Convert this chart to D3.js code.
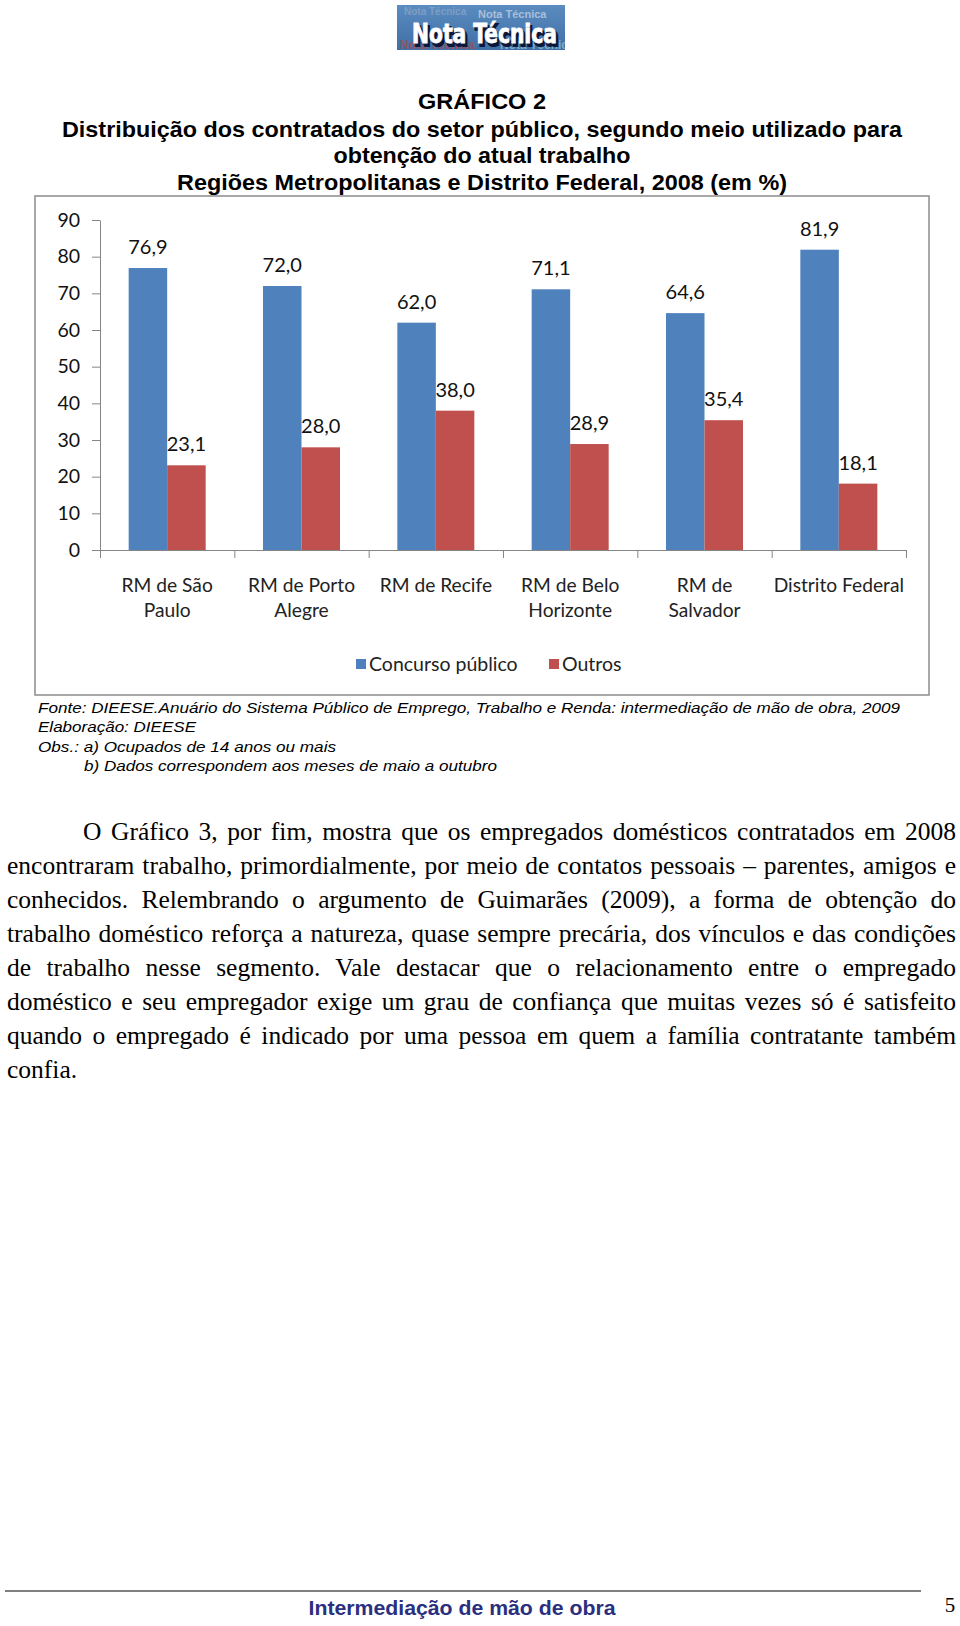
<!DOCTYPE html>
<html><head><meta charset="utf-8">
<script src="https://cdn.jsdelivr.net/npm/d3@7"></script>
<style>body{margin:0;background:#fff}svg{display:block}</style>
</head><body><svg id="c" width="960" height="1626"></svg>
<script>
// ---------- DATA ----------
const categories = [["RM de São","Paulo"],["RM de Porto","Alegre"],["RM de Recife"],["RM de Belo","Horizonte"],["RM de","Salvador"],["Distrito Federal"]];
const seriesNames = ["Concurso público","Outros"];
const concursoPublico = [76.9,72.0,62.0,71.1,64.6,81.9];
const outros = [23.1,28.0,38.0,28.9,35.4,18.1];
const yTicks = [0,10,20,30,40,50,60,70,80,90];
const titleLines = ["GRÁFICO 2","Distribuição dos contratados do setor público, segundo meio utilizado para","obtenção do atual trabalho","Regiões Metropolitanas e Distrito Federal, 2008 (em %)"];
const noteLines = ["Fonte: DIEESE.Anuário do Sistema Público de Emprego, Trabalho e Renda: intermediação de mão de obra, 2009","Elaboração: DIEESE","Obs.: a) Ocupados de 14 anos ou mais","b) Dados correspondem aos meses de maio a outubro"];
const bodyLines = ["O Gráfico 3, por fim, mostra que os empregados domésticos contratados em 2008",
"encontraram trabalho, primordialmente, por meio de contatos pessoais – parentes, amigos e",
"conhecidos. Relembrando o argumento de Guimarães (2009), a forma de obtenção do",
"trabalho doméstico reforça a natureza, quase sempre precária, dos vínculos e das condições",
"de trabalho nesse segmento. Vale destacar que o relacionamento entre o empregado",
"doméstico e seu empregador exige um grau de confiança que muitas vezes só é satisfeito",
"quando o empregado é indicado por uma pessoa em quem a família contratante também",
"confia."];
const footerText = "Intermediação de mão de obra";
const pageNumber = "5";
const logoText = "Nota Técnica";

const seriesValues = [concursoPublico, outros];
const colors = ["#4F81BD","#C0504D"];
const svg = d3.select("#c");
const fmt = v => d3.format(".1f")(v).replace(".", ",");

// ---------- LOGO ----------
const defs = svg.append("defs");
const lg = defs.append("linearGradient").attr("id","lg").attr("x1",0).attr("y1",0).attr("x2",0).attr("y2",1);
lg.append("stop").attr("offset","0%").attr("stop-color","#5b8cc0");
lg.append("stop").attr("offset","100%").attr("stop-color","#3f6fa5");
defs.append("clipPath").attr("id","lc").append("rect").attr("x",397).attr("y",5).attr("width",168).attr("height",45);
const logo = svg.append("g").attr("clip-path","url(#lc)");
logo.append("rect").attr("x",397).attr("y",5).attr("width",168).attr("height",45).attr("fill","url(#lg)");
[[404,15,"#8aa6c8",10],[478,18,"#c6d3e4",11],[400,49,"#b04848",12],[500,49,"#8fc0d6",12]].forEach(d=>{
  logo.append("text").attr("x",d[0]).attr("y",d[1]).attr("fill",d[2]).attr("font-family","Liberation Sans").attr("font-weight","bold").attr("font-size",d[3]).attr("opacity",0.75).text(logoText);
});
logo.append("text").attr("x",414).attr("y",45.5).attr("fill","#0d1838").attr("stroke","#0d1838").attr("stroke-width",2)
  .attr("font-family","DejaVu Sans Condensed, Liberation Sans Narrow, Liberation Sans").attr("font-weight","bold").attr("font-size",26)
  .attr("textLength",145).attr("lengthAdjust","spacingAndGlyphs").text(logoText);
logo.append("text").attr("x",412).attr("y",43).attr("fill","#ffffff").attr("stroke","#ffffff").attr("stroke-width",0.8)
  .attr("font-family","DejaVu Sans Condensed, Liberation Sans Narrow, Liberation Sans").attr("font-weight","bold").attr("font-size",26)
  .attr("textLength",145).attr("lengthAdjust","spacingAndGlyphs").text(logoText);

// ---------- TITLE ----------
const titleW = [128,840,297,610];
const titleY = [109,137,163,190];
svg.append("g").selectAll("text").data(titleLines).join("text")
  .attr("x",482).attr("y",(d,i)=>titleY[i]).attr("text-anchor","middle")
  .attr("font-family","Liberation Sans, Arial").attr("font-weight","bold").attr("font-size",22.5)
  .attr("textLength",(d,i)=>titleW[i]).attr("lengthAdjust","spacingAndGlyphs").attr("fill","#000")
  .text(d=>d);

// ---------- CHART BOX ----------
svg.append("rect").attr("x",35).attr("y",196).attr("width",894).attr("height",499)
  .attr("fill","#fff").attr("stroke","#8c8c8c").attr("stroke-width",1.5);

const x = d3.scaleBand().domain(d3.range(categories.length)).range([100,906]);
const xEdge = d3.scaleLinear().domain([0,categories.length]).range([100,906]);
const y = d3.scaleLinear().domain([0,90]).range([550,220]);
const groupW = 77;
const xs = d3.scaleBand().domain(d3.range(seriesNames.length)).range([0,groupW]);

// Y axis
const yAxis = svg.append("g").attr("transform","translate(100,0)")
  .call(d3.axisLeft(y).tickValues(yTicks).tickSize(8).tickPadding(12).tickSizeOuter(0));
yAxis.selectAll("path,line").attr("stroke","#868686");
yAxis.selectAll("text").attr("font-family","Lato").attr("font-size",19.5).attr("fill","#111");

// X axis
const xAxis = svg.append("g").attr("transform","translate(0,550)")
  .call(d3.axisBottom(xEdge).tickValues(d3.range(categories.length+1)).tickSize(8).tickSizeOuter(0).tickFormat(""));
xAxis.selectAll("path,line").attr("stroke","#868686");

// Bars
const groups = svg.append("g").selectAll("g").data(categories).join("g")
  .attr("transform",(d,i)=>`translate(${x(i)+x.bandwidth()/2-groupW/2},0)`);
groups.each(function(d,i){
  const g = d3.select(this);
  seriesValues.forEach((vals,s)=>{
    g.append("rect").attr("x",xs(s)).attr("width",xs.bandwidth())
      .attr("y",y(vals[i])).attr("height",y(0)-y(vals[i])).attr("fill",colors[s]);
    g.append("text").attr("x",xs(s)+xs.bandwidth()/2).attr("y",y(vals[i])-14)
      .attr("text-anchor","middle").attr("font-family","Lato").attr("font-size",20).attr("fill","#111")
      .text(fmt(vals[i]));
  });
});

// Category labels
svg.append("g").selectAll("text").data(categories).join("text")
  .attr("x",(d,i)=>x(i)+x.bandwidth()/2).attr("y",591.5)
  .attr("text-anchor","middle").attr("font-family","Lato").attr("font-size",19.2).attr("fill","#222")
  .each(function(d){
    const t = d3.select(this);
    d.forEach((line,k)=>t.append("tspan").attr("x",t.attr("x")).attr("dy",k?25:0).text(line));
  });

// Legend
const legX = [356,549];
const leg = svg.append("g").selectAll("g").data(seriesNames).join("g")
  .attr("transform",(d,i)=>`translate(${legX[i]},659)`);
leg.append("rect").attr("width",10).attr("height",10).attr("fill",(d,i)=>colors[i]);
leg.append("text").attr("x",13).attr("y",11.5).attr("font-family","Lato").attr("font-size",19.5).attr("fill","#222").text(d=>d);

// ---------- NOTES ----------
const noteX = [38,38,38,84];
const noteY = [713,732,751.5,771];
const noteW = [862,158,298,413];
svg.append("g").selectAll("text").data(noteLines).join("text")
  .attr("x",(d,i)=>noteX[i]).attr("y",(d,i)=>noteY[i])
  .attr("font-family","Liberation Sans, Arial").attr("font-style","italic").attr("font-size",15.5)
  .attr("textLength",(d,i)=>noteW[i]).attr("lengthAdjust","spacingAndGlyphs").attr("fill","#000")
  .text(d=>d);

// ---------- BODY ----------
const bodyG = svg.append("g");
bodyLines.forEach((line,i)=>{
  const x0 = i===0 ? 83 : 7;
  const t = bodyG.append("text").attr("x",x0).attr("y",839.5+i*34.05)
    .attr("font-family","Liberation Serif").attr("font-size",25.5).attr("fill","#000").text(line);
  if (i < bodyLines.length-1) {
    const target = 956 - x0;
    const natural = t.node().getComputedTextLength();
    const spaces = (line.match(/ /g)||[]).length;
    const gap = target - natural;
    if (gap >= 0 && spaces) t.attr("word-spacing",gap/spaces);
    else t.attr("textLength",target).attr("lengthAdjust","spacingAndGlyphs");
  }
});

// ---------- FOOTER ----------
svg.append("line").attr("x1",5).attr("x2",921).attr("y1",1591).attr("y2",1591).attr("stroke","#555").attr("stroke-width",1.5);
svg.append("text").attr("x",462).attr("y",1615).attr("text-anchor","middle")
  .attr("font-family","Liberation Sans, Arial").attr("font-weight","bold").attr("font-size",20)
  .attr("textLength",307).attr("lengthAdjust","spacingAndGlyphs").attr("fill","#2b2f80").text(footerText);
svg.append("text").attr("x",950).attr("y",1612).attr("text-anchor","middle")
  .attr("font-family","Liberation Serif").attr("font-size",21).attr("fill","#000").text(pageNumber);
</script>
</body></html>
